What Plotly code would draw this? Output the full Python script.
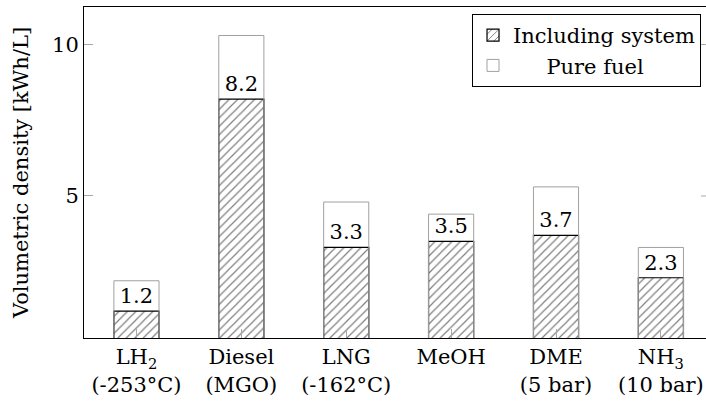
import plotly.graph_objects as go

categories = ["LH<sub>2</sub><br>(-253°C)", "Diesel<br>(MGO)", "LNG<br>(-162°C)",
              "MeOH", "DME<br>(5 bar)", "NH<sub>3</sub><br>(10 bar)"]
pure_fuel = [2.2, 10.3, 4.8, 4.4, 5.3, 3.3]
including_system = [1.2, 8.2, 3.3, 3.5, 3.7, 2.3]
y_ticks = [5, 10]

FONT = "DejaVu Serif"
FS = 21
xpos = list(range(len(categories)))

fig = go.Figure()
fig.add_trace(go.Bar(
    x=xpos, y=including_system, name="Including system", width=0.43,
    marker=dict(color="white", line=dict(color="black", width=1.2),
                pattern=dict(shape="/", fgcolor="black", bgcolor="white", size=6, solidity=0.2)),
    text=[f"{v:.1f}" for v in including_system], textposition="outside",
    textfont=dict(family=FONT, size=FS, color="black"), cliponaxis=False,
))
fig.add_trace(go.Bar(
    x=xpos, y=pure_fuel, name="\u00a0\u00a0\u00a0\u00a0\u00a0Pure fuel", width=0.43,
    marker=dict(color="rgba(255,255,255,0)", line=dict(color="#a0a0a0", width=1)),
))

fig.update_layout(
    width=706, height=402, barmode="overlay",
    margin=dict(l=84, r=0, t=7, b=64),
    paper_bgcolor="white", plot_bgcolor="white",
    font=dict(family=FONT, size=FS, color="black"),
    showlegend=True,
    legend=dict(x=0.992, y=0.979, xanchor="right", yanchor="top",
                bordercolor="black", borderwidth=1, bgcolor="white",
                font=dict(family=FONT, size=FS), traceorder="normal",
                itemwidth=30, tracegroupgap=0),
)
fig.update_xaxes(
    range=[-0.5, 5.43], tickvals=xpos, ticktext=categories,
    showline=True, linecolor="black", linewidth=1, mirror=True,
    ticks="inside", ticklen=9, tickcolor="#a8a8a8",
    showgrid=False, zeroline=False,
    tickfont=dict(family=FONT, size=FS, color="black"),
)
fig.update_yaxes(
    range=[0.31, 11.24], tickvals=y_ticks, ticktext=[str(t) for t in y_ticks],
    showline=True, linecolor="black", linewidth=1,
    ticks="inside", ticklen=9, tickcolor="#a8a8a8",
    showgrid=False, zeroline=False,
    tickfont=dict(family=FONT, size=FS, color="black"),
    title=dict(text="Volumetric density [kWh/L]", standoff=17,
               font=dict(family=FONT, size=FS, color="black")),
)
# right-side mirrored ticks (the right frame edge falls just outside the view)
for t in y_ticks:
    fig.add_shape(type="line", xref="paper", yref="y", x0=1 - 5 / 622, x1=1,
                  y0=t, y1=t, line=dict(color="#a8a8a8", width=1))

fig.write_html("out.html")
